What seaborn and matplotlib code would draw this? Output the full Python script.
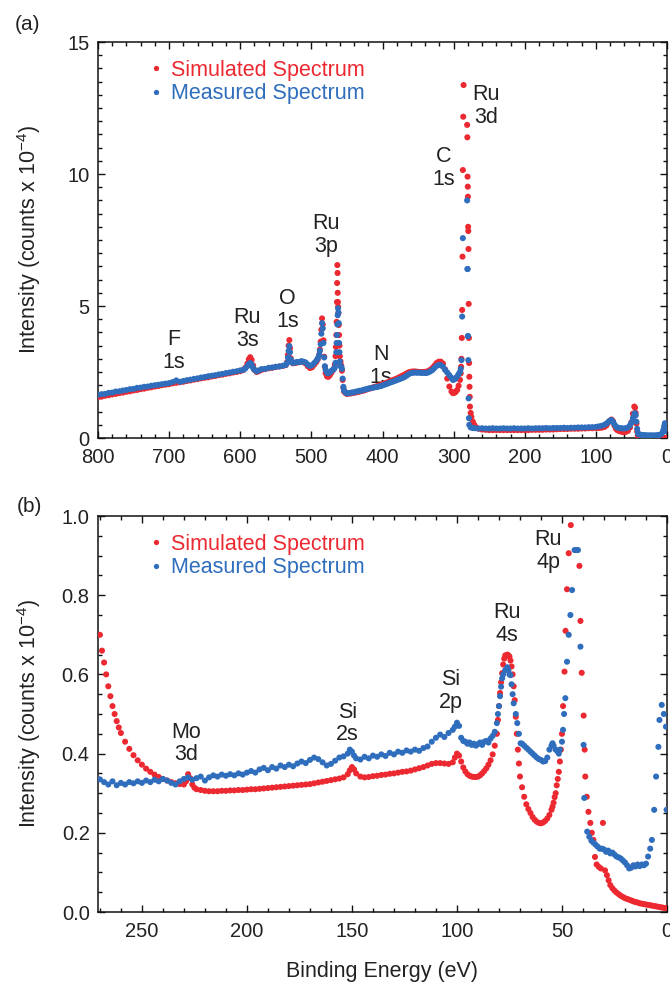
import numpy as np
import pandas as pd
import matplotlib
matplotlib.use("Agg")
import matplotlib.pyplot as plt
import seaborn as sns
from matplotlib.ticker import MultipleLocator, FormatStrFormatter, FixedLocator
from matplotlib.lines import Line2D

# ---------------- data ----------------
SERIES = ["Simulated Spectrum", "Measured Spectrum"]
COLORS = ["#ec2830", "#2f6dbd"]

# Panel (a): full survey, binding energy (eV) / intensity (counts x 1e-4)
TOP_SIM_E = [
    800, 795, 790, 785, 780, 775, 770, 765, 760, 755,
    750, 745, 740, 735, 730, 725, 720, 715, 710, 705,
    700, 695, 690, 685, 680, 675, 670, 665, 660, 655,
    650, 645, 640, 635, 630, 625, 620, 615, 610, 605,
    600, 596, 593, 590, 588, 586, 584, 582, 580, 577,
    574, 570, 565, 560, 555, 550, 545, 540, 536, 534,
    533, 532, 531, 530, 529, 528, 526, 523, 520, 517,
    514, 511, 508, 505, 502, 499, 496, 493, 491, 489,
    488, 487, 486, 485, 484, 483, 482, 481, 480, 478,
    476, 474, 472, 470, 468, 467, 466, 465.5, 465, 464.5,
    464, 463.8, 463.5, 463.2, 463, 462.7, 462.4, 462, 461.5, 461,
    460.5, 460, 459, 458, 457, 456, 455, 454, 452, 450,
    447, 444, 441, 438, 435, 432, 429, 426, 423, 420,
    417, 414, 411, 408, 405, 402, 399, 396, 393, 390,
    387, 384, 381, 378, 375, 372, 369, 366, 363, 360,
    357, 354, 351, 348, 345, 342, 339, 336, 333, 330,
    327, 324, 321, 318, 315, 312, 309, 306, 303, 301,
    299, 297, 295, 293, 291, 290, 289.5, 289, 288.5, 288,
    287.5, 287, 286.5, 286, 281, 280.7, 280.4, 280.1, 279.9, 279.6,
    279.4, 279.1, 278.8, 278.5, 278.2, 277.9, 277.6, 277.3, 277, 276,
    275, 273, 271, 268, 265, 260, 255, 250, 245, 240,
    235, 230, 225, 220, 215, 210, 205, 200, 195, 190,
    185, 180, 175, 170, 165, 160, 155, 150, 145, 140,
    135, 130, 125, 120, 115, 110, 105, 100, 96, 92,
    88, 85, 82, 80, 78, 76, 74, 72, 70, 67,
    64, 61, 58, 55, 52, 50, 48, 46, 45, 44,
    43, 42, 41, 40, 37, 34, 31, 28, 25, 22,
    19, 16, 13, 10, 7, 4, 1, 0]
TOP_SIM_I = [
    1.55, 1.57, 1.60, 1.62, 1.65, 1.67, 1.70, 1.72, 1.75, 1.77,
    1.80, 1.82, 1.85, 1.87, 1.90, 1.92, 1.95, 1.97, 2.00, 2.02,
    2.04, 2.07, 2.09, 2.11, 2.13, 2.16, 2.18, 2.21, 2.23, 2.26,
    2.28, 2.30, 2.33, 2.35, 2.38, 2.40, 2.43, 2.45, 2.48, 2.50,
    2.53, 2.57, 2.66, 2.82, 2.98, 3.06, 2.96, 2.75, 2.58, 2.50,
    2.53, 2.58, 2.61, 2.64, 2.66, 2.69, 2.71, 2.73, 2.76, 2.88,
    3.15, 3.50, 3.71, 3.40, 3.02, 2.88, 2.83, 2.84, 2.86, 2.88,
    2.89, 2.87, 2.82, 2.72, 2.65, 2.68, 2.78, 2.88, 2.98, 3.15,
    3.35, 3.65, 4.10, 4.53, 4.30, 3.70, 3.08, 2.70, 2.45, 2.33,
    2.32, 2.38, 2.47, 2.56, 2.65, 2.78, 3.10, 3.45, 3.90, 4.40,
    5.15, 5.87, 6.55, 6.25, 5.50, 5.15, 4.97, 4.73, 4.28, 3.90,
    3.50, 3.10, 2.90, 2.75, 2.55, 2.20, 1.90, 1.76, 1.70, 1.67,
    1.68, 1.69, 1.71, 1.72, 1.74, 1.76, 1.78, 1.80, 1.83, 1.86,
    1.88, 1.91, 1.94, 1.96, 1.99, 2.02, 2.05, 2.08, 2.11, 2.14,
    2.18, 2.21, 2.24, 2.28, 2.32, 2.36, 2.40, 2.45, 2.49, 2.51,
    2.52, 2.52, 2.51, 2.50, 2.50, 2.50, 2.51, 2.53, 2.58, 2.65,
    2.74, 2.84, 2.89, 2.89, 2.82, 2.60, 2.25, 1.95, 1.76, 1.70,
    1.71, 1.75, 1.82, 1.98, 2.20, 2.45, 2.70, 3.00, 3.79, 4.85,
    6.87, 10.15, 12.17, 13.37, 11.86, 11.39, 9.90, 9.52, 9.14, 8.00,
    7.84, 7.16, 5.08, 3.79, 2.84, 2.32, 1.94, 1.56, 1.19, 0.95,
    0.80, 0.62, 0.50, 0.40, 0.35, 0.32, 0.31, 0.30, 0.30, 0.30,
    0.30, 0.30, 0.30, 0.30, 0.30, 0.30, 0.30, 0.30, 0.30, 0.31,
    0.31, 0.31, 0.31, 0.32, 0.32, 0.32, 0.33, 0.34, 0.34, 0.34,
    0.35, 0.35, 0.35, 0.36, 0.36, 0.37, 0.37, 0.38, 0.38, 0.39,
    0.42, 0.48, 0.60, 0.66, 0.70, 0.64, 0.48, 0.36, 0.30, 0.26,
    0.24, 0.22, 0.23, 0.27, 0.40, 0.60, 0.92, 1.19, 1.15, 0.95,
    0.55, 0.25, 0.10, 0.02, 0.00, 0.00, 0.00, 0.00, 0.00, 0.00,
    0.00, 0.00, 0.00, 0.00, 0.00, 0.00, 0.00, 0.00]

TOP_MEAS_E = [
    800, 795, 790, 785, 780, 775, 770, 765, 760, 755,
    750, 745, 740, 735, 730, 725, 720, 715, 710, 705,
    700, 695, 690, 685, 680, 675, 670, 665, 660, 655,
    650, 645, 640, 635, 630, 625, 620, 615, 610, 605,
    600, 596, 593, 590, 588, 586, 584, 582, 580, 577,
    574, 570, 565, 560, 555, 550, 545, 540, 536, 534,
    533, 532, 531, 530, 529, 528, 526, 523, 520, 517,
    514, 511, 508, 505, 502, 499, 496, 493, 491, 489,
    488, 487, 486, 485, 484, 483, 482, 481, 480, 478,
    476, 474, 472, 470, 468, 467, 466, 465, 464.5, 464,
    463.5, 463, 462.5, 462, 461.5, 461, 460.5, 460, 459, 458,
    457, 456, 455, 454, 452, 450, 447, 444, 441, 438,
    435, 432, 429, 426, 423, 420, 417, 414, 411, 408,
    405, 402, 399, 396, 393, 390, 387, 384, 381, 378,
    375, 372, 369, 366, 363, 360, 357, 354, 351, 348,
    345, 342, 339, 336, 333, 330, 327, 324, 321, 318,
    315, 312, 309, 306, 303, 301, 299, 297, 295, 293,
    291, 290, 289, 288, 287, 281, 280.6, 280.3, 280, 279.7,
    279.4, 279, 278.5, 278, 276, 273, 270, 265, 260, 255,
    250, 245, 240, 235, 230, 225, 220, 215, 210, 205,
    200, 195, 190, 185, 180, 175, 170, 165, 160, 155,
    150, 145, 140, 135, 130, 125, 120, 115, 110, 105,
    100, 96, 92, 88, 85, 82, 80, 78, 76, 74,
    72, 70, 67, 64, 61, 58, 55, 52, 50, 48,
    46, 45, 44, 43, 42, 41, 40, 37, 34, 31,
    28, 25, 22, 19, 16, 13, 10, 8, 6, 5,
    4, 3, 2, 1, 0]
TOP_MEAS_I = [
    1.63, 1.66, 1.67, 1.71, 1.72, 1.76, 1.77, 1.80, 1.82, 1.85,
    1.86, 1.90, 1.91, 1.94, 1.95, 1.98, 2.00, 2.02, 2.04, 2.06,
    2.08, 2.12, 2.18, 2.13, 2.16, 2.19, 2.21, 2.24, 2.26, 2.29,
    2.31, 2.34, 2.36, 2.38, 2.41, 2.43, 2.46, 2.48, 2.51, 2.53,
    2.56, 2.58, 2.63, 2.72, 2.80, 2.84, 2.78, 2.66, 2.58, 2.53,
    2.56, 2.61, 2.62, 2.66, 2.67, 2.70, 2.71, 2.74, 2.77, 2.85,
    3.05, 3.30, 3.48, 3.25, 2.98, 2.88, 2.84, 2.86, 2.88, 2.87,
    2.91, 2.89, 2.86, 2.78, 2.73, 2.76, 2.84, 2.93, 3.02, 3.15,
    3.30, 3.55, 3.95, 4.35, 4.15, 3.60, 3.05, 2.72, 2.58, 2.47,
    2.45, 2.49, 2.54, 2.58, 2.62, 2.68, 2.85, 3.25, 3.60, 3.90,
    4.30, 4.65, 4.91, 4.75, 4.35, 3.60, 3.25, 2.90, 2.72, 2.70,
    2.62, 2.25, 1.94, 1.80, 1.73, 1.69, 1.70, 1.72, 1.73, 1.75,
    1.77, 1.79, 1.80, 1.83, 1.85, 1.87, 1.89, 1.90, 1.92, 1.93,
    1.95, 1.97, 2.00, 2.03, 2.06, 2.09, 2.12, 2.15, 2.18, 2.21,
    2.24, 2.27, 2.31, 2.36, 2.42, 2.46, 2.47, 2.48, 2.47, 2.48,
    2.46, 2.47, 2.46, 2.48, 2.52, 2.57, 2.65, 2.73, 2.77, 2.76,
    2.70, 2.58, 2.48, 2.38, 2.28, 2.20, 2.22, 2.27, 2.33, 2.42,
    2.50, 2.62, 2.95, 4.60, 7.57, 9.00, 6.40, 6.40, 3.86, 3.86,
    2.95, 1.50, 0.75, 0.50, 0.40, 0.38, 0.37, 0.36, 0.37, 0.36,
    0.36, 0.37, 0.36, 0.36, 0.37, 0.36, 0.36, 0.37, 0.36, 0.36,
    0.36, 0.37, 0.36, 0.37, 0.37, 0.37, 0.38, 0.37, 0.38, 0.38,
    0.38, 0.39, 0.38, 0.39, 0.39, 0.40, 0.40, 0.40, 0.41, 0.41,
    0.42, 0.44, 0.46, 0.50, 0.55, 0.62, 0.66, 0.68, 0.62, 0.52,
    0.44, 0.40, 0.38, 0.37, 0.36, 0.37, 0.40, 0.48, 0.58, 0.75,
    0.90, 0.94, 0.86, 0.62, 0.35, 0.20, 0.14, 0.12, 0.11, 0.11,
    0.10, 0.10, 0.10, 0.10, 0.10, 0.11, 0.12, 0.15, 0.22, 0.32,
    0.45, 0.56, 0.50, 0.35, 0.25]

# Panel (b): low binding-energy region
BOT_SIM_E = [
    270, 269, 268, 267, 266, 265, 264, 263, 262, 261,
    260, 258, 256, 254, 252, 250, 248, 246, 244, 242,
    240, 238, 236, 234, 232, 230, 229, 228, 227, 226,
    225, 224, 222, 220, 218, 216, 214, 212, 210, 208,
    206, 204, 202, 200, 198, 196, 194, 192, 190, 188,
    186, 184, 182, 180, 178, 176, 174, 172, 170, 168,
    166, 164, 162, 160, 158, 156, 154, 152, 151, 150,
    149, 148, 146, 144, 142, 140, 138, 136, 134, 132,
    130, 128, 126, 124, 122, 120, 118, 116, 114, 112,
    110, 108, 106, 104, 102, 101, 100, 99, 98, 97,
    96, 95, 94, 93, 92, 91, 90, 89, 88, 87,
    86, 85, 84, 83, 82, 81, 80.5, 80, 79.5, 79,
    78.5, 78, 77.5, 77, 76, 75.5, 75, 74.5, 74, 73.5,
    73, 72.5, 72, 71.5, 71, 70.5, 70, 69, 68, 67,
    66, 65, 64, 63, 62, 61, 60, 59, 58, 57,
    56, 55, 54.5, 54, 53.5, 53, 52.5, 52, 51.5, 51,
    50.5, 50, 49.5, 48.8, 48.3, 47.6, 46.8, 45.8, 45, 44,
    43, 42.3, 41.7, 41.2, 40.6, 39.7, 39.2, 38.9, 38.2, 37.4,
    36.5, 35.8, 35, 34.3, 33.5, 32.5, 31.5, 30.5, 29.5, 28.6,
    27.8, 27, 26, 25, 24, 23, 22, 21, 20, 19,
    18, 17, 16, 15, 14, 13, 12, 11, 10, 9,
    8, 7, 6, 5, 4, 3, 2, 1, 0]
BOT_SIM_I = [
    0.700, 0.660, 0.630, 0.600, 0.570, 0.545, 0.520, 0.500, 0.482, 0.466,
    0.452, 0.430, 0.412, 0.396, 0.383, 0.372, 0.362, 0.354, 0.347, 0.341,
    0.336, 0.332, 0.328, 0.325, 0.323, 0.322, 0.330, 0.348, 0.338, 0.322,
    0.314, 0.310, 0.308, 0.306, 0.305, 0.305, 0.305, 0.306, 0.306, 0.307,
    0.307, 0.308, 0.308, 0.309, 0.310, 0.310, 0.311, 0.312, 0.313, 0.314,
    0.315, 0.316, 0.317, 0.318, 0.319, 0.320, 0.321, 0.322, 0.323, 0.325,
    0.327, 0.329, 0.331, 0.333, 0.335, 0.337, 0.340, 0.348, 0.358, 0.366,
    0.360, 0.350, 0.342, 0.340, 0.341, 0.343, 0.344, 0.346, 0.347, 0.349,
    0.350, 0.352, 0.354, 0.355, 0.357, 0.360, 0.363, 0.366, 0.370, 0.374,
    0.376, 0.376, 0.375, 0.374, 0.378, 0.390, 0.400, 0.395, 0.380, 0.365,
    0.355, 0.348, 0.344, 0.342, 0.341, 0.341, 0.342, 0.345, 0.350, 0.356,
    0.363, 0.372, 0.383, 0.398, 0.420, 0.450, 0.485, 0.520, 0.553, 0.580,
    0.603, 0.625, 0.640, 0.648, 0.650, 0.648, 0.645, 0.635, 0.620, 0.600,
    0.570, 0.535, 0.493, 0.450, 0.410, 0.375, 0.342, 0.315, 0.291, 0.272,
    0.260, 0.250, 0.240, 0.233, 0.228, 0.225, 0.224, 0.226, 0.230, 0.236,
    0.245, 0.258, 0.266, 0.276, 0.290, 0.300, 0.320, 0.336, 0.354, 0.380,
    0.410, 0.450, 0.520, 0.607, 0.710, 0.815, 0.906, 0.977, 1.080, 1.150,
    1.080, 1.030, 0.874, 0.735, 0.604, 0.496, 0.410, 0.342, 0.291, 0.253,
    0.225, 0.200, 0.182, 0.139, 0.120, 0.114, 0.110, 0.225, 0.105, 0.093,
    0.080, 0.068, 0.060, 0.054, 0.049, 0.045, 0.041, 0.038, 0.035, 0.033,
    0.031, 0.029, 0.027, 0.025, 0.024, 0.022, 0.021, 0.020, 0.019, 0.018,
    0.017, 0.016, 0.015, 0.014, 0.013, 0.012, 0.011, 0.010, 0.010]

BOT_MEAS_E = [
    270, 268, 266, 264, 262, 260, 258, 256, 254, 252,
    250, 248, 246, 244, 242, 240, 238, 236, 234, 232,
    230, 228, 226, 224, 222, 220, 218, 216, 214, 212,
    210, 208, 206, 204, 202, 200, 198, 196, 194, 192,
    190, 188, 186, 184, 182, 180, 178, 176, 174, 172,
    170, 168, 166, 164, 162, 160, 158, 156, 154, 152,
    151, 150, 149, 148, 146, 144, 142, 140, 138, 136,
    134, 132, 130, 128, 126, 124, 122, 120, 118, 116,
    114, 112, 110, 108, 106, 104, 102, 101, 100, 99,
    98, 97, 96, 95, 94, 93, 92, 91, 90, 89,
    88, 87, 86, 85, 84, 83, 82, 81, 80.5, 80,
    79.5, 79, 78.5, 78, 77, 76, 75.5, 75, 74.5, 74,
    73.5, 73, 72, 71.3, 70.5, 69.7, 69, 68, 67, 66,
    65, 64, 63, 62, 61, 60, 59, 58, 57, 56,
    55, 54.5, 54, 53, 52, 51.5, 51, 50, 49.5, 49,
    48.4, 47.6, 46.8, 46, 45.2, 44, 43.2, 42.4, 41.2, 39.7,
    39.4, 38, 37, 36, 35, 34, 33, 32, 31, 30,
    29, 28, 27, 26, 25, 24, 23, 22, 21, 20,
    19, 18, 17, 16, 15, 14, 13, 12, 11, 10,
    9, 8, 7.2, 6.1, 5.2, 4.1, 3.6, 2.5, 1.5, 0.5,
    0.2]
BOT_MEAS_I = [
    0.335, 0.328, 0.322, 0.330, 0.320, 0.326, 0.322, 0.328, 0.325, 0.330,
    0.326, 0.332, 0.328, 0.334, 0.330, 0.336, 0.332, 0.326, 0.322, 0.330,
    0.336, 0.340, 0.334, 0.338, 0.342, 0.332, 0.340, 0.345, 0.342, 0.347,
    0.344, 0.348, 0.345, 0.350, 0.347, 0.352, 0.356, 0.352, 0.360, 0.364,
    0.358, 0.366, 0.362, 0.370, 0.366, 0.372, 0.368, 0.375, 0.380, 0.376,
    0.384, 0.390, 0.386, 0.378, 0.370, 0.374, 0.382, 0.390, 0.393, 0.400,
    0.410, 0.405, 0.395, 0.388, 0.385, 0.392, 0.388, 0.395, 0.392, 0.398,
    0.394, 0.402, 0.398, 0.405, 0.402, 0.408, 0.405, 0.410, 0.407, 0.414,
    0.418, 0.430, 0.440, 0.448, 0.442, 0.452, 0.460, 0.468, 0.478, 0.470,
    0.440, 0.432, 0.430, 0.425, 0.428, 0.422, 0.425, 0.420, 0.424, 0.428,
    0.422, 0.430, 0.432, 0.428, 0.438, 0.445, 0.455, 0.477, 0.500, 0.520,
    0.545, 0.569, 0.590, 0.600, 0.611, 0.618, 0.610, 0.600, 0.598, 0.575,
    0.550, 0.527, 0.500, 0.477, 0.450, 0.426, 0.425, 0.420, 0.415, 0.410,
    0.405, 0.400, 0.395, 0.390, 0.386, 0.384, 0.380, 0.381, 0.390, 0.410,
    0.420, 0.426, 0.420, 0.410, 0.405, 0.400, 0.410, 0.430, 0.460, 0.500,
    0.540, 0.632, 0.700, 0.750, 0.813, 0.914, 0.914, 0.914, 0.670, 0.422,
    0.288, 0.203, 0.190, 0.180, 0.175, 0.170, 0.165, 0.160, 0.160, 0.158,
    0.152, 0.155, 0.148, 0.150, 0.145, 0.140, 0.138, 0.135, 0.130, 0.125,
    0.118, 0.110, 0.112, 0.118, 0.115, 0.120, 0.116, 0.120, 0.118, 0.122,
    0.140, 0.160, 0.182, 0.258, 0.342, 0.417, 0.485, 0.523, 0.500, 0.468,
    0.258]

# Peak annotations
TOP_LABELS = ["F\n1s", "Ru\n3s", "O\n1s", "Ru\n3p", "N\n1s", "C\n1s", "Ru\n3d"]
TOP_LABEL_E = [693, 590, 534, 479, 402, 314, 254]
TOP_LABEL_I = [3.30, 4.13, 4.85, 7.69, 2.73, 10.23, 12.58]
BOT_LABELS = ["Mo\n3d", "Si\n2s", "Si\n2p", "Ru\n4s", "Ru\n4p"]
BOT_LABEL_E = [229, 152, 103, 76, 56.5]
BOT_LABEL_I = [0.426, 0.476, 0.558, 0.727, 0.912]

TOP_XTICKS = [800, 700, 600, 500, 400, 300, 200, 100, 0]
TOP_YTICKS = [0, 5, 10, 15]
BOT_XTICKS = [250, 200, 150, 100, 50, 0]
BOT_YTICKS = [0.0, 0.2, 0.4, 0.6, 0.8, 1.0]

# ---------------- style ----------------
sns.set_theme(style="ticks")
plt.rcParams["font.family"] = ["Liberation Sans", "DejaVu Sans"]
plt.rcParams["mathtext.fontset"] = "custom"
plt.rcParams["mathtext.rm"] = "Liberation Sans"
plt.rcParams["mathtext.it"] = "Liberation Sans:italic"
plt.rcParams["mathtext.bf"] = "Liberation Sans:bold"
TXT = "#222222"

W, H = 670, 983
fig = plt.figure(figsize=(W / 100, H / 100), dpi=100, facecolor="white")


def add_ax(top_px, bottom_px):
    return fig.add_axes([98 / W, 1 - bottom_px / H, (667 - 98) / W,
                         (bottom_px - top_px) / H])


ax1 = add_ax(42, 438)
ax2 = add_ax(516, 912)
palette = dict(zip(SERIES, COLORS))


def make_df(se, si, me, mi):
    a = pd.DataFrame({"E": se, "I": si, "Spectrum": SERIES[0]})
    b = pd.DataFrame({"E": me, "I": mi, "Spectrum": SERIES[1]})
    return pd.concat([a, b], ignore_index=True)


df_top = make_df(TOP_SIM_E, TOP_SIM_I, TOP_MEAS_E, TOP_MEAS_I)
df_bot = make_df(BOT_SIM_E, BOT_SIM_I, BOT_MEAS_E, BOT_MEAS_I)

for ax, df in ((ax1, df_top), (ax2, df_bot)):
    sns.scatterplot(data=df, x="E", y="I", hue="Spectrum", palette=palette,
                    s=19, linewidth=0, edgecolor="none", legend=False,
                    ax=ax, zorder=3)

ax1.set_xlim(800, 0)
ax1.set_ylim(0, 15)
ax2.set_xlim(270.9, 0)
ax2.set_ylim(0, 1.0)

ax1.xaxis.set_major_locator(FixedLocator(TOP_XTICKS))
ax1.yaxis.set_major_locator(FixedLocator(TOP_YTICKS))
ax1.xaxis.set_minor_locator(MultipleLocator(20))
ax1.yaxis.set_minor_locator(MultipleLocator(0.5))
ax2.xaxis.set_major_locator(FixedLocator(BOT_XTICKS))
ax2.yaxis.set_major_locator(FixedLocator(BOT_YTICKS))
ax2.xaxis.set_minor_locator(MultipleLocator(10))
ax2.yaxis.set_minor_locator(MultipleLocator(0.05))
ax2.yaxis.set_major_formatter(FormatStrFormatter("%.1f"))

for ax in (ax1, ax2):
    ax.tick_params(which="both", direction="in", top=True, right=True,
                   color="#111111", width=1.0, labelcolor=TXT, labelsize=14.5)
    ax.tick_params(which="major", length=5.0)
    ax.tick_params(which="minor", length=2.8)
    ax.tick_params(axis="x", which="major", pad=7.5)
    ax.tick_params(axis="y", which="major", pad=6)
    for sp in ax.spines.values():
        sp.set_linewidth(1.1)
        sp.set_color("#111111")
    ax.set_ylabel("Intensity (counts x 10$^{\\mathregular{-4}}$)",
                  fontsize=15.5, color=TXT)
    ax.yaxis.set_label_coords(-0.097, 0.5)
    ax.set_xlabel("")
    handles = [Line2D([], [], ls="", marker="o", ms=3.8, mfc=c, mec="none")
               for c in COLORS]
    leg = ax.legend(handles, SERIES, loc="upper left",
                    bbox_to_anchor=(0.092, 0.955), frameon=False,
                    fontsize=15.5, handlelength=0.5, handletextpad=0.45,
                    borderpad=0, borderaxespad=0, labelspacing=0.12)
    for t, c in zip(leg.get_texts(), COLORS):
        t.set_color(c)

for lab, e, i in zip(TOP_LABELS, TOP_LABEL_E, TOP_LABEL_I):
    ax1.text(e, i, lab, ha="center", va="center", fontsize=15.5,
             color=TXT, linespacing=1.1, zorder=1)
for lab, e, i in zip(BOT_LABELS, BOT_LABEL_E, BOT_LABEL_I):
    ax2.text(e, i, lab, ha="center", va="center", fontsize=15.5,
             color=TXT, linespacing=1.1, zorder=1)

ax2.set_xlabel("Binding Energy (eV)", fontsize=15.5, color=TXT)
ax2.xaxis.set_label_coords(0.5, -0.125)

fig.text(28 / W, 1 - 24 / H, "(a)", ha="center", va="center",
         fontsize=15, color=TXT)
fig.text(29 / W, 1 - 507 / H, "(b)", ha="center", va="center",
         fontsize=15, color=TXT)

fig.savefig("out.png", dpi=100, facecolor="white")
